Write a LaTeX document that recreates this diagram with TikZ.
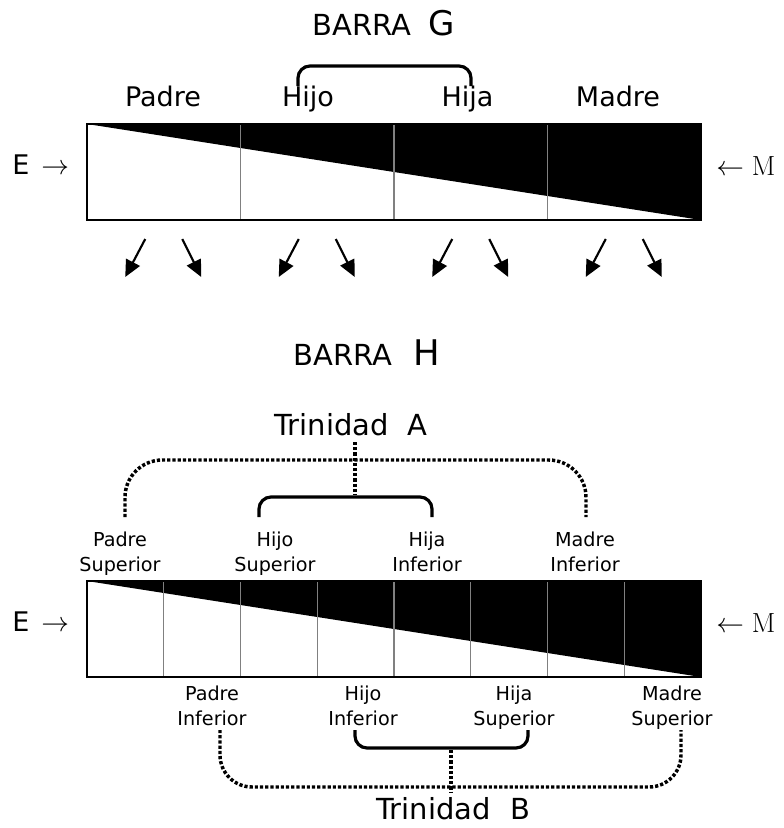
\documentclass[tikz,border=0pt]{standalone}
\usepackage[no-math]{fontspec}
\setmainfont{DejaVu Sans}
\usetikzlibrary{arrows.meta}
\tikzset{
  lbl/.style={font=\fontsize{20.25}{24}\selectfont, inner sep=0pt, anchor=base},
  small/.style={font=\fontsize{14.4}{18.75}\selectfont, inner sep=0pt, anchor=north, align=center},
  title/.style={font=\fontsize{21.75}{26}\selectfont, inner sep=0pt, anchor=base west},
  side/.style={font=\fontsize{20.25}{24}\selectfont, inner sep=0pt, anchor=base west},
  outline/.style={draw=black, line width=1.5pt},
  divider/.style={draw=gray, line width=1.1pt},
  outarrow/.style={line width=1.6pt, -{Triangle[length=12.5pt,width=11.5pt]}},
  solidbr/.style={line width=2.4pt, rounded corners=9pt},
  dotbr/.style={line width=2.6pt, dash pattern=on 2.4pt off 1.5pt},
}
\begin{document}
\begin{tikzpicture}[x=0.75pt,y=-0.75pt]
\useasboundingbox (0,0) rectangle (784,828);

% ---------- BARRA G ----------
\node[title] (barraG) at (312,36) {BARRA\hspace{13pt}{\fontsize{25.5}{30}\selectfont G}};

\coordinate (g-nw) at (87,124);
\coordinate (g-ne) at (701,124);
\coordinate (g-se) at (701,220);
\fill[white] (g-nw) rectangle (g-se);
\fill[black] (g-nw) -- (g-ne) -- (g-se) -- cycle;
\foreach \x in {240.5,394,547.5} \draw[divider] (\x,124) -- (\x,220);
\draw[outline] (g-nw) rectangle (g-se);

% bracket over Hijo / Hija
\coordinate (bg-l) at (298,86);
\coordinate (bg-m) at (384,66);
\coordinate (bg-r) at (471,86);
\draw[solidbr] (bg-l) |- (bg-m) -| (bg-r);

\node[lbl] (padreG) at (163,106) {Padre};
\node[lbl] (hijoG) at (308,106) {Hijo};
\node[lbl] (hijaG) at (467.5,106) {Hija};
\node[lbl] (madreG) at (618,106) {Madre};

\node[side] (eG) at (12,174) {E\hspace{9pt}$\rightarrow$};
\node[side,font=\fontsize{21.75}{26}\selectfont] (mG) at (716,175) {$\leftarrow$\hspace{6pt}$\mathrm{M}$};

% out arrows
\foreach \c [count=\i] in {163.75,317.25,470.75,624.25} {
  \coordinate (al\i s) at ({\c-18.5},239);
  \coordinate (al\i e) at ({\c-38.5},277);
  \coordinate (ar\i s) at ({\c+18.5},239);
  \coordinate (ar\i e) at ({\c+37.5},277);
  \draw[outarrow] (al\i s) -- (al\i e);
  \draw[outarrow] (ar\i s) -- (ar\i e);
}

% ---------- BARRA H ----------
\node[title] (barraH) at (293,365) {BARRA\hspace{16pt}{\fontsize{26.5}{31}\selectfont H}};

\node[title] (trinA) at (274,435) {Trinidad\hspace{14pt}A};

% dotted bracket A
\coordinate (ta-l) at (125,517);
\coordinate (ta-m) at (355,460);
\coordinate (ta-r) at (586,517);
\draw[dotbr, rounded corners=28pt] (ta-l) |- (ta-m) -| (ta-r);
\coordinate (ta-s1) at (355,442);
\coordinate (ta-s2) at (355,495);
\draw[dotbr] (ta-s1) -- (ta-s2);

% solid bracket A
\coordinate (sa-l) at (259,517);
\coordinate (sa-m) at (345,497);
\coordinate (sa-r) at (432,517);
\draw[solidbr] (sa-l) |- (sa-m) -| (sa-r);

\node[small] (padreSup) at (120,532) {Padre\\Superior};
\node[small] (hijoSup) at (275,532) {Hijo\\Superior};
\node[small] (hijaInf) at (427,532) {Hija\\Inferior};
\node[small] (madreInf) at (585,532) {Madre\\Inferior};

\coordinate (h-nw) at (87,581);
\coordinate (h-ne) at (701,581);
\coordinate (h-se) at (701,677);
\fill[white] (h-nw) rectangle (h-se);
\fill[black] (h-nw) -- (h-ne) -- (h-se) -- cycle;
\foreach \x in {163.75,240.5,317.25,394,470.75,547.5,624.25} \draw[divider] (\x,581) -- (\x,677);
\draw[outline] (h-nw) rectangle (h-se);

\node[side] (eH) at (12,631) {E\hspace{9pt}$\rightarrow$};
\node[side,font=\fontsize{21.75}{26}\selectfont] (mH) at (716,632) {$\leftarrow$\hspace{6pt}$\mathrm{M}$};

\node[small] (padreInf) at (212,686) {Padre\\Inferior};
\node[small] (hijoInf) at (363,686) {Hijo\\Inferior};
\node[small] (hijaSup) at (514,686) {Hija\\Superior};
\node[small] (madreSup) at (672,686) {Madre\\Superior};

% solid bracket B
\coordinate (sb-l) at (355,730);
\coordinate (sb-m) at (441,748);
\coordinate (sb-r) at (528,730);
\draw[solidbr] (sb-l) |- (sb-m) -| (sb-r);

% dotted bracket B
\coordinate (tb-l) at (220,730);
\coordinate (tb-m) at (451,787);
\coordinate (tb-r) at (681,730);
\draw[dotbr, rounded corners=24pt] (tb-l) |- (tb-m) -| (tb-r);
\coordinate (tb-s1) at (451,750);
\coordinate (tb-s2) at (451,792);
\draw[dotbr] (tb-s1) -- (tb-s2);

\node[title] (trinB) at (376,819) {Trinidad\hspace{15pt}B};
\end{tikzpicture}
\end{document}
